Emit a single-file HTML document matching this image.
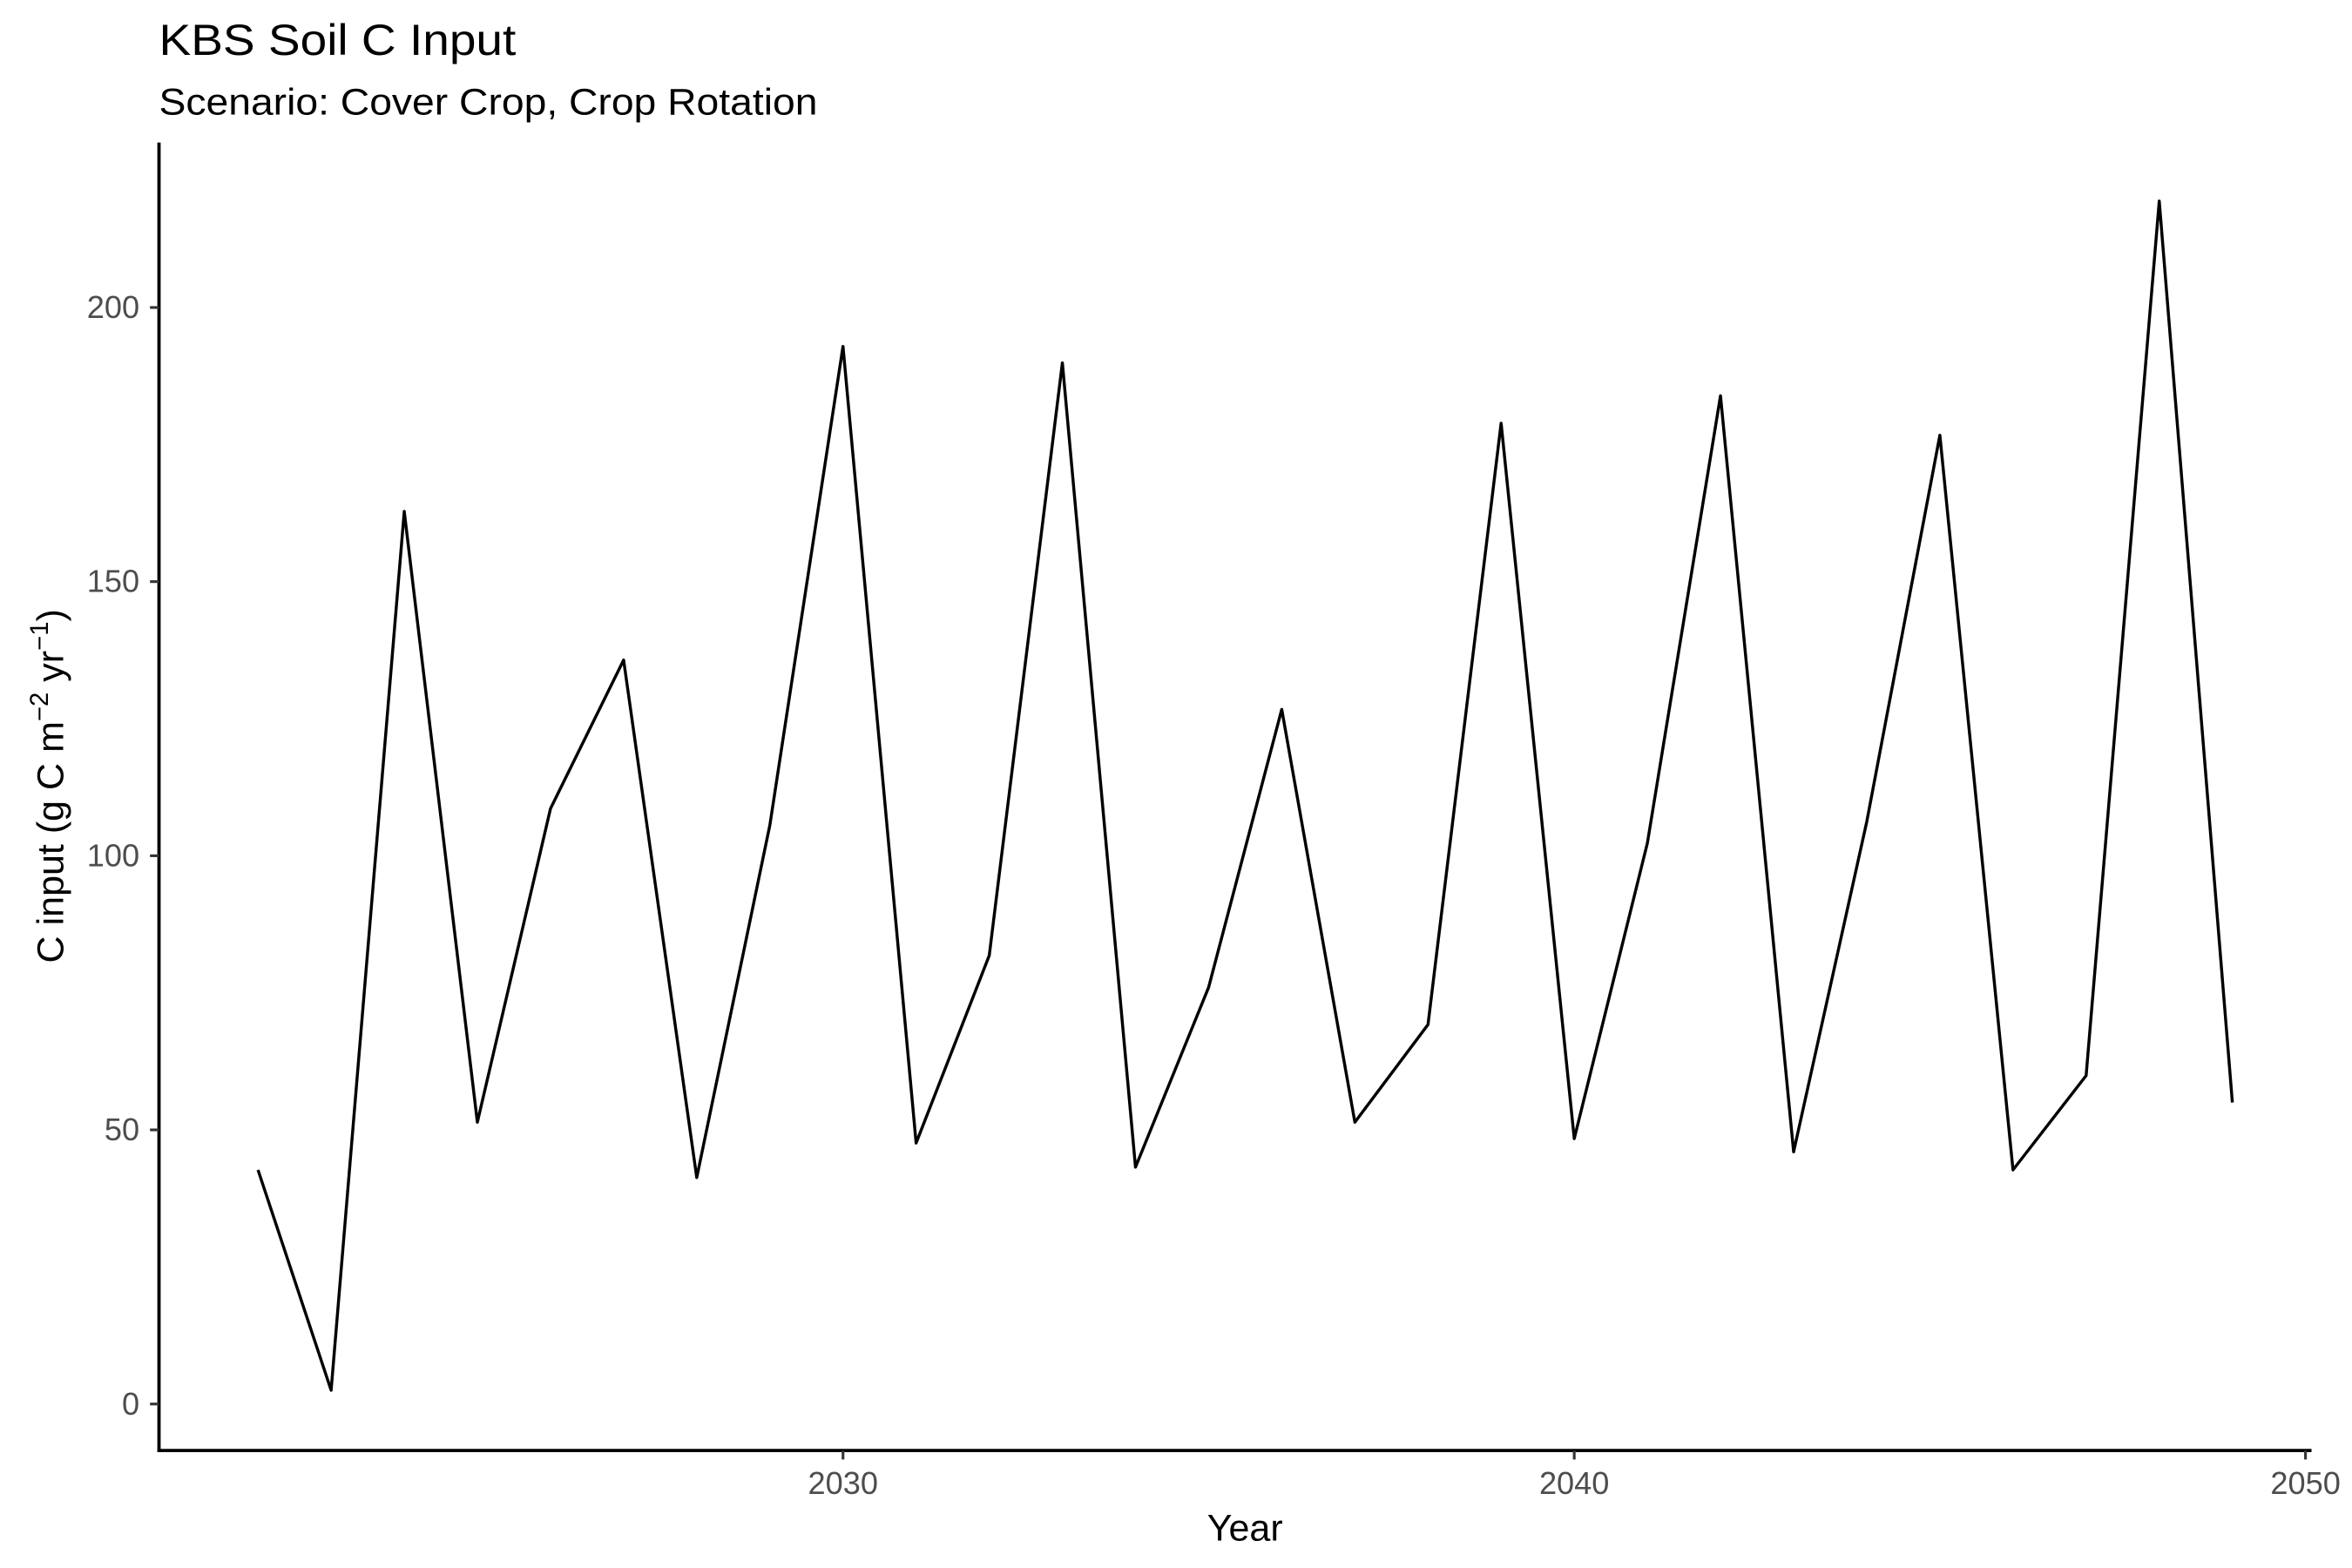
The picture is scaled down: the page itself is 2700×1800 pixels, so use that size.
<!DOCTYPE html>
<html><head><meta charset="utf-8"><style>
html,body{margin:0;padding:0;background:#fff;}
svg{display:block;font-family:"Liberation Sans",Arial,sans-serif;}
</style></head><body>
<svg id="chart" width="2700" height="1800" viewBox="0 0 1568 1045.33" preserveAspectRatio="none">
<rect width="1568" height="1045.33" fill="#fff"/>
<text x="106" y="36.5" font-size="29" fill="#000" textLength="238" lengthAdjust="spacingAndGlyphs">KBS Soil C Input</text>
<text x="106" y="76.5" font-size="25" fill="#000" textLength="439" lengthAdjust="spacingAndGlyphs">Scenario: Cover Crop, Crop Rotation</text>
<g id="axes"></g>
<path id="series" fill="none" stroke="#000" stroke-width="2" stroke-linejoin="round"/>
<text x="830" y="1027" font-size="25" text-anchor="middle">Year</text>
<text transform="translate(42,524) rotate(-90)" font-size="25" text-anchor="middle">C input (g C m<tspan font-size="17" dy="-10">−2</tspan><tspan dy="10"> yr</tspan><tspan font-size="17" dy="-10">−1</tspan><tspan dy="10">)</tspan></text>
</svg>
<script>
const years=[2022,2023,2024,2025,2026,2027,2028,2029,2030,2031,2032,2033,2034,2035,2036,2037,2038,2039,2040,2041,2042,2043,2044,2045,2046,2047,2048,2049];
const values=[42.7,2.5,162.8,51.4,108.6,135.7,41.3,105.6,192.9,47.6,81.8,189.9,43.2,76,126.7,51.4,69.2,178.9,48.4,102.3,183.9,46,106.2,176.7,42.7,59.9,219.4,55];
const xTicks=[2030,2040,2050];
const yTicks=[0,50,100,150,200];
const NS="http://www.w3.org/2000/svg";
function xs(v){return 562+(v-2030)*48.75;}
function ys(v){return 936-v*3.655;}
const g=document.getElementById('axes');
function el(t,a){const e=document.createElementNS(NS,t);for(const k in a)e.setAttribute(k,a[k]);g.appendChild(e);return e;}
const ya=el('line',{x1:106,y1:95,x2:106,y2:968,stroke:'#000','stroke-width':2.2});


const xa=el('line',{x1:105,y1:967,x2:1541,y2:967,stroke:'#000','stroke-width':2.2});


yTicks.forEach(v=>{
 const t=el('line',{x1:100,x2:106,y1:ys(v),y2:ys(v),stroke:'#333','stroke-width':1.8});
 
 
 const l=el('text',{x:93,y:ys(v)+7,'font-size':21,'text-anchor':'end',fill:'#4d4d4d'});
 l.textContent=v;
 
 
});
xTicks.forEach(v=>{
 const t=el('line',{x1:xs(v),x2:xs(v),y1:967,y2:973,stroke:'#333','stroke-width':1.8});
 
 
 const l=el('text',{x:xs(v),y:996,'font-size':21,'text-anchor':'middle',fill:'#4d4d4d'});
 l.textContent=v;
 
 
});
document.getElementById('series').setAttribute('d',years.map((y,i)=>(i?'L':'M')+xs(y).toFixed(2)+','+ys(values[i]).toFixed(2)).join(''));
</script>
</body></html>
